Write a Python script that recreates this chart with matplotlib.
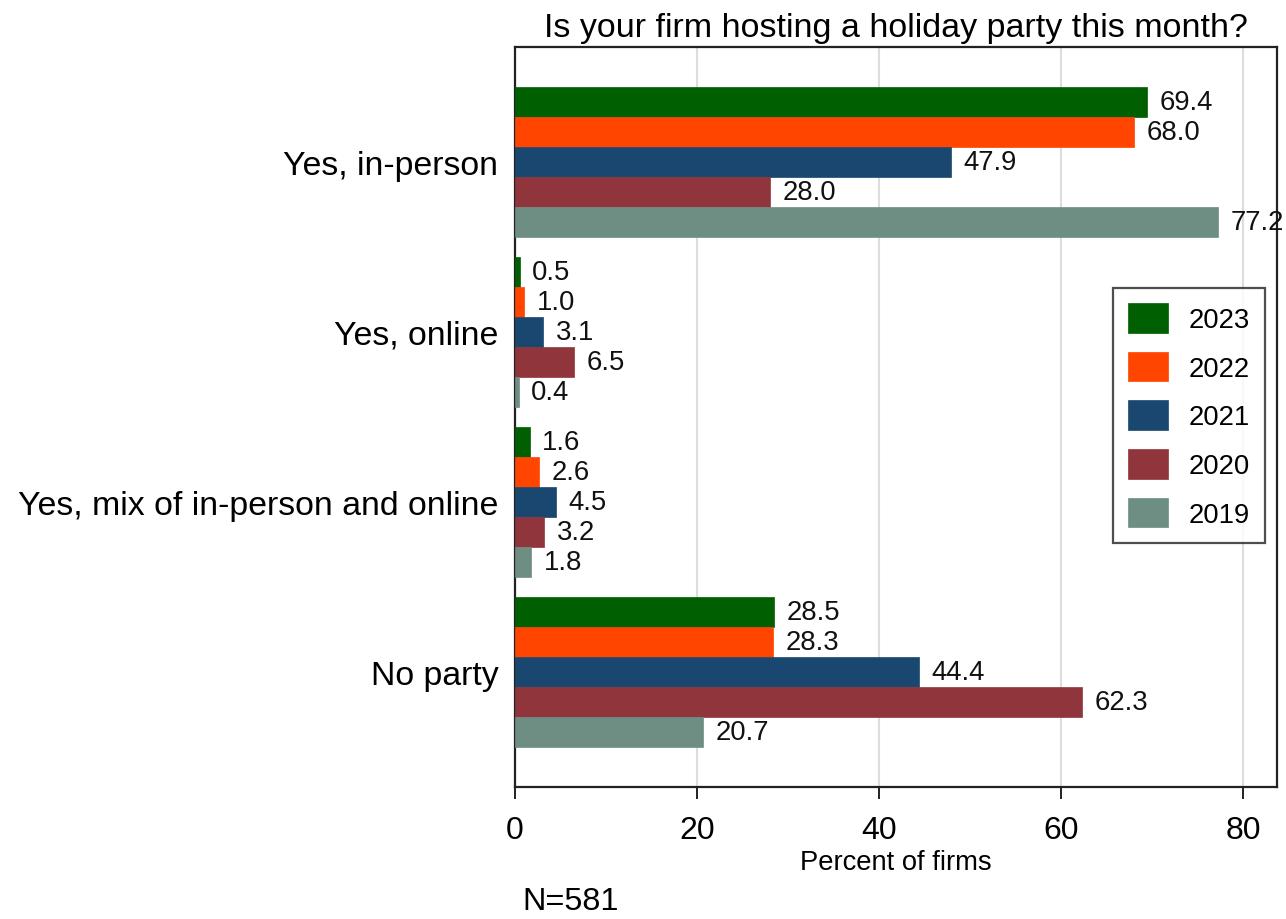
import matplotlib
matplotlib.use("Agg")
import matplotlib.pyplot as plt
import numpy as np

plt.rcParams['font.family'] = ['Liberation Sans', 'DejaVu Sans']

categories = ["Yes, in-person", "Yes, online", "Yes, mix of in-person and online", "No party"]
years = ["2023", "2022", "2021", "2020", "2019"]
values = {
    "2023": [69.4, 0.5, 1.6, 28.5],
    "2022": [68.0, 1.0, 2.6, 28.3],
    "2021": [47.9, 3.1, 4.5, 44.4],
    "2020": [28.0, 6.5, 3.2, 62.3],
    "2019": [77.2, 0.4, 1.8, 20.7],
}
colors = {
    "2023": "#005f00",
    "2022": "#ff4500",
    "2021": "#1a476f",
    "2020": "#90353b",
    "2019": "#6e8e84",
}
title = "Is your firm hosting a holiday party this month?"
xlabel = "Percent of firms"
note = "N=581"
xticks = [0, 20, 40, 60, 80]

W, H = 1286, 920
L, R, T, B = 515, 1277, 48, 788
fig = plt.figure(figsize=(W / 100, H / 100), dpi=100)
ax = fig.add_axes([L / W, 1 - B / H, (R - L) / W, (B - T) / H])

bar_h = 30 / 170
y = np.arange(len(categories))
for i, yr in enumerate(years):
    pos = y + (i - 2) * bar_h
    ax.barh(pos, values[yr], height=bar_h, color=colors[yr], label=yr,
            edgecolor=colors[yr], linewidth=0.5, zorder=3)
    for p, v in zip(pos, values[yr]):
        ax.annotate(f"{v:.1f}", (v, p), xytext=(9.1, 0), textcoords="offset points",
                    va="center", ha="left", fontsize=19.8, color="#111111", zorder=4,
                    annotation_clip=False, clip_on=False)

ax.set_xlim(0, (R - L) / 9.1)
ax.set_ylim(3 + 115 / 170, -115 / 170)
ax.set_yticks(y)
ax.set_yticklabels(categories, fontsize=24.4)
ax.set_xticks(xticks)
ax.set_xticklabels([str(t) for t in xticks], fontsize=23)
ax.tick_params(axis="y", length=0, pad=12)
ax.tick_params(axis="x", length=8.6, width=1.4, pad=11.5, direction="out", color="#222222")
ax.grid(axis="x", color="#dddddd", linewidth=1.5, zorder=0)
for s in ax.spines.values():
    s.set_color("#222222")
    s.set_linewidth(1.6)
ax.set_xlabel(xlabel, fontsize=19.7, labelpad=3)
ax.set_title(title, fontsize=24.5, pad=8)

leg = ax.legend(loc="upper left", bbox_to_anchor=((1113 - L) / (R - L), (B - 289) / (B - T)),
                fontsize=19.8, frameon=True, fancybox=False, shadow=False, borderpad=0.55,
                handlelength=1.45, handleheight=1.27, handletextpad=0.75,
                labelspacing=0.68, borderaxespad=0)
leg.get_frame().set_edgecolor("#222222")
leg.get_frame().set_linewidth(1.6)

fig.text(522 / W, 1 - 902 / H, note, fontsize=23.3, va="center", ha="left")

fig.savefig("out.png", dpi=100)
